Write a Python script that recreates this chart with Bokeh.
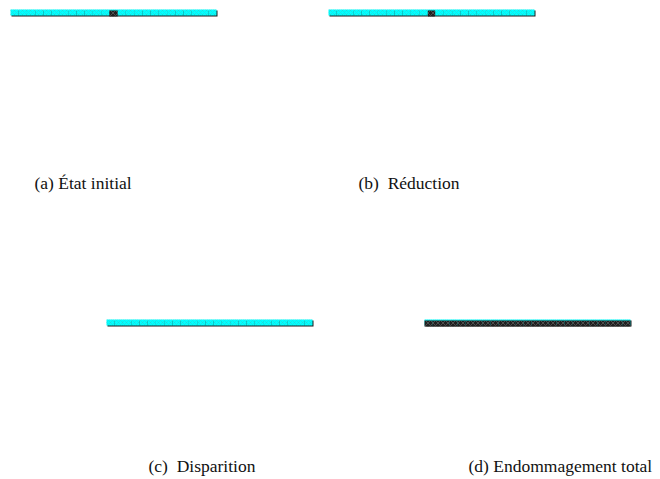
from bokeh.plotting import figure
from bokeh.models import Range1d
from bokeh.core.properties import value
from bokeh.embed import file_html
from bokeh.resources import INLINE

# ---- data ----
panel_ids = ["a", "b", "c", "d"]
captions = ["(a) État initial", "(b)\u00a0\u00a0Réduction", "(c)\u00a0\u00a0Disparition", "(d) Endommagement total"]
n_elements = 25
# damage fraction of each element, per panel
damage = {
    "a": [0.0] * 12 + [1.0] + [0.0] * 12,
    "b": [0.0] * 12 + [0.85] + [0.0] * 12,
    "c": [0.0] * 25,
    "d": [1.0] * 25,
}

# ---- layout (pixel coordinates inside the figure) ----
W, H = 660, 479
origins = {"a": (10, 9), "b": (328, 9), "c": (106, 319), "d": (424, 319)}
bar_w, bar_h = 206, 6
caption_pos = {"a": (34, 182), "b": (358, 182), "c": (148, 465), "d": (468, 465)}

p = figure(width=W, height=H, output_backend="svg", toolbar_location=None,
           x_range=Range1d(0, W), y_range=Range1d(H, 0), min_border=0)
p.axis.visible = False
p.grid.visible = False
p.outline_line_color = None
p.background_fill_color = "white"

cw = bar_w / n_elements
for pid, cap in zip(panel_ids, captions):
    x0, y0 = origins[pid]
    # shadow
    p.quad(left=[x0 + 1], right=[x0 + bar_w + 1], top=[y0 + 1], bottom=[y0 + bar_h + 1],
           fill_color="#1a1a1a", line_color=None)
    # healthy elements
    lefts = [x0 + i * cw for i in range(n_elements)]
    rights = [x0 + (i + 1) * cw for i in range(n_elements)]
    p.quad(left=lefts, right=rights, top=[y0] * n_elements, bottom=[y0 + bar_h] * n_elements,
           fill_color="#00ffff", line_color=None,
           hatch_pattern="diagonal_cross", hatch_color="#4aa8a8", hatch_alpha=0.45,
           hatch_scale=4, hatch_weight=0.6)
    # damaged parts
    dl, dr, dt, db = [], [], [], []
    for i, d in enumerate(damage[pid]):
        if d > 0:
            c = x0 + (i + 0.5) * cw
            half = d * cw / 2
            dl.append(c - half)
            dr.append(c + half)
            dt.append(y0 + 1)
            db.append(y0 + bar_h + 1)
    if dl:
        p.quad(left=dl, right=dr, top=dt, bottom=db, fill_color="#202020", line_color=None,
               hatch_pattern="diagonal_cross", hatch_color="#8a8a8a", hatch_alpha=0.7,
               hatch_scale=5, hatch_weight=0.6)
    tx, ty = caption_pos[pid]
    p.text(x=[tx], y=[ty], text=[cap], text_font=value("Liberation Serif"),
           text_font_size="17.5px", text_baseline="middle", text_align="left", text_color="#111111")

open("out.html", "w").write(file_html(p, INLINE))
